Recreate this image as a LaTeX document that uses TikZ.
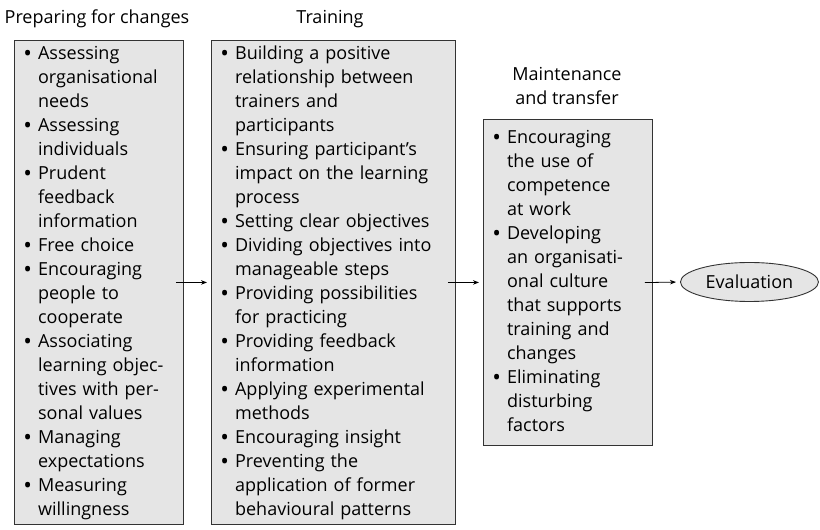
\documentclass[tikz,border=0pt]{standalone}
\usepackage{fontspec}
\setmainfont{Open Sans}
\usetikzlibrary{arrows.meta,shapes.geometric}
\tikzset{
	stage/.style={draw=black!80, fill=black!10, line width=0.9pt, anchor=north west, inner xsep=9pt, inner ysep=0pt, align=left},
	heading/.style={anchor=base, align=center},
	flow/.style={-{Stealth[length=6pt,width=4.5pt]}, line width=0.8pt, shorten <=-8pt, shorten >=4pt}
}
\newcommand{\bl}{\raisebox{-2.2pt}{\fontsize{23}{24}\selectfont\textbullet}}
\newcommand{\blist}[1]{\noindent\begin{tabular}{@{}l@{\hspace{6pt}}l@{}}#1\end{tabular}}

\begin{document}
\begin{tikzpicture}[x=1pt, y=1pt, font=\fontsize{18}{24}\selectfont]
		%%%%% START %%%%%
		\useasboundingbox (0, 0) rectangle (820, 530);
		
		\node[stage, text width=151pt, minimum height=484pt] (prep) at (14, 490) {\blist{
			\bl & Assessing\\ & organisational\\ & needs\\
			\bl & Assessing\\ & individuals\\
			\bl & Prudent\\ & feedback\\ & information\\
			\bl & Free choice\\
			\bl & Encouraging\\ & people to\\ & cooperate\\
			\bl & Associating\\ & learning objec-\\ & tives with per-\\ & sonal values\\
			\bl & Managing\\ & expectations\\
			\bl & Measuring\\ & willingness}};
		
		\node[stage, text width=226pt, minimum height=484pt] (train) at (211, 490) {\blist{
			\bl & Building a positive\\ & relationship between\\ & trainers and\\ & participants\\
			\bl & Ensuring participant's\\ & impact on the learning\\ & process\\
			\bl & Setting clear objectives\\
			\bl & Dividing objectives into\\ & manageable steps\\
			\bl & Providing possibilities\\ & for practicing\\
			\bl & Providing feedback\\ & information\\
			\bl & Applying experimental\\ & methods\\
			\bl & Encouraging insight\\
			\bl & Preventing the\\ & application of former\\ & behavioural patterns}};
		
		\node[stage, text width=151pt, minimum height=326pt] (keep) at (483, 411) {\blist{
			\bl & Encouraging\\ & the use of\\ & competence\\ & at work\\
			\bl & Developing\\ & an organisati-\\ & onal culture\\ & that supports\\ & training and\\ & changes\\
			\bl & Eliminating\\ & disturbing\\ & factors}};
		
		\node[ellipse, draw=black!80, fill=black!10, line width=0.9pt, minimum width=138pt, minimum height=39pt, anchor=west] (eval) at (680, 248) {Evaluation};
		
		% stage titles
		\node[heading] (prephead) at (97, 506) {Preparing for changes};
		\node[heading] (trainhead) at (330, 506) {Training};
		\node[heading] (keephead) at (567, 425) {Maintenance\\and transfer};
		
		\draw[flow] (prep.east) -- (train.west);
		\draw[flow] (train.east) -- (keep.west);
		\draw[flow] (keep.east) -- (eval.west);
		%%%%% END %%%%%
	\end{tikzpicture}
\end{document}
